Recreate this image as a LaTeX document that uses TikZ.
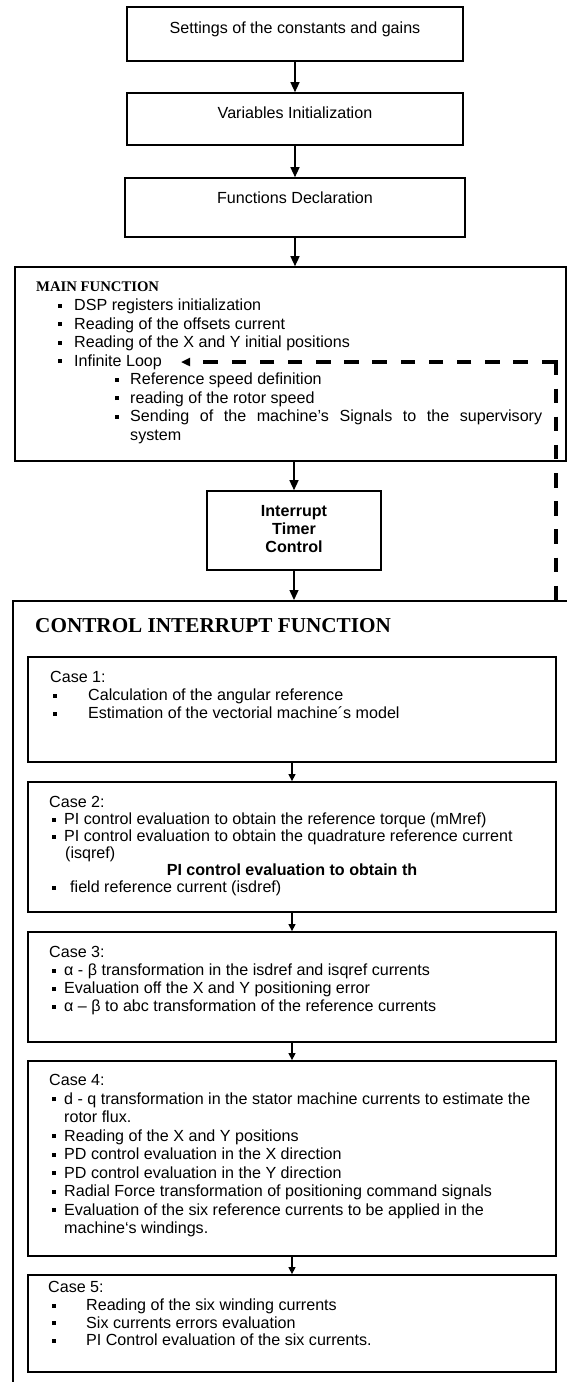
\documentclass[tikz,border=0pt]{standalone}
\usepackage{fontspec}
\setmainfont{Liberation Sans}
\newfontfamily\serifbf{Liberation Serif}
\usetikzlibrary{arrows.meta}
% small square bullet hanging left of the item text
\newcommand\bul[1]{\llap{\rule[3pt]{4pt}{4pt}\hspace{#1}}}
\newcommand\gravechar{\symbol{"60}}
\begin{document}
\begin{tikzpicture}[x=1pt,y=-1pt,
  frame/.style={draw, line width=1.6pt, inner sep=0pt},
  casebox/.style={draw, line width=1.8pt, inner sep=0pt, minimum width=528pt},
  txt/.style={inner sep=0pt, font=\fontsize{16.1}{18}\selectfont},
  ltxt/.style={txt, anchor=base west},
  ctxt/.style={txt, anchor=base},
  btxt/.style={inner sep=0pt, anchor=base, font=\fontsize{16.1}{18}\selectfont\bfseries},
  head/.style={inner sep=0pt, anchor=base west, font=\serifbf\bfseries\fontsize{14.7}{17}\selectfont},
  bighead/.style={inner sep=0pt, anchor=base west, font=\serifbf\bfseries\fontsize{21.2}{24}\selectfont},
  arr/.style={line width=1.3pt, -{Triangle[length=10pt,width=9pt]}},
  sarr/.style={line width=1.3pt, -{Triangle[length=7pt,width=7pt]}},
  dashline/.style={line width=3.2pt, dash pattern=on 14.5pt off 13.67pt},
  dashconn/.style={dashline, -{Triangle[length=9pt,width=8pt]}}
]
\useasboundingbox (0,0) rectangle (567,1382);
\fill[white] (0,0) rectangle (567,1382);

% ---------- initial blocks ----------
\node[frame, minimum width=336pt, minimum height=54pt] (set) at (295,34) {};
\node[ctxt] (setT) at (295,33.5) {Settings of the constants and gains};
\node[frame, minimum width=336pt, minimum height=52pt] (var) at (295,119) {};
\node[ctxt] (varT) at (295,118.5) {Variables Initialization};
\node[frame, minimum width=340pt, minimum height=59pt] (fun) at (295,207.5) {};
\node[ctxt] (funT) at (295,203.5) {Functions Declaration};

% ---------- main function ----------
\node[frame, minimum width=551pt, minimum height=194pt] (main) at (290.5,364) {};
\node[head] (mainT) at (36,291) {MAIN FUNCTION};
\node[ltxt] (m1) at (74,310.5) {\bul{12pt}DSP registers initialization};
\node[ltxt] (m2) at (74,329) {\bul{12pt}Reading of the offsets current};
\node[ltxt] (m3) at (74,347.5) {\bul{12pt}Reading of the X and Y initial positions};
\node[ltxt] (m4) at (74,366) {\bul{12pt}Infinite Loop};
\node[ltxt] (m5) at (130,384.5) {\bul{11pt}Reference speed definition};
\node[ltxt] (m6) at (130,403) {\bul{11pt}reading of the rotor speed};
\node[ltxt] (m7) at (130,421.5) {\bul{11pt}\hbox to 412pt{Sending\hfill of\hfill the\hfill machine’s\hfill Signals\hfill to\hfill the\hfill supervisory}};
\node[ltxt] (m8) at (130,440) {system};

% ---------- interrupt timer ----------
\node[frame, minimum width=174pt, minimum height=79pt] (tim) at (294,530.5) {};
\node[btxt] (tim1) at (294,516.5) {Interrupt};
\node[btxt] (tim2) at (294,534.5) {Timer};
\node[btxt] (tim3) at (294,552.5) {Control};

% ---------- control interrupt function ----------
\node[frame, anchor=north west, minimum width=600pt, minimum height=820pt] (ctrl) at (12,600) {};
\node[bighead] (ctrlT) at (35,632) {CONTROL INTERRUPT FUNCTION};

% Case 1
\node[casebox, minimum height=105pt] (c1) at (292,709.5) {};
\node[ltxt] (c1h) at (50,682.5) {Case 1:};
\node[ltxt] (c1a) at (88,700.5) {\bul{31pt}Calculation of the angular reference};
\node[ltxt] (c1b) at (88,718.5) {\bul{31pt}Estimation of the vectorial machine´s model};

% Case 2
\node[casebox, minimum height=130pt] (c2) at (292,847) {};
\node[ltxt] (c2h) at (49,807.5) {Case 2:};
\node[ltxt] (c2a) at (64,824.5) {\bul{8pt}PI control evaluation to obtain the reference torque (mMref)};
\node[ltxt] (c2b) at (64,841.5) {\bul{8pt}PI control evaluation to obtain the quadrature reference current};
\node[ltxt] (c2c) at (65,858.5) {(isqref)};
\node[btxt] (c2d) at (292,875.5) {PI control evaluation to obtain th};
\node[ltxt] (c2e) at (70,892.5) {\bul{14pt}field reference current (isdref)};

% Case 3
\node[casebox, minimum height=110pt] (c3) at (292,987) {};
\node[ltxt] (c3h) at (49,957.5) {Case 3:};
\node[ltxt] (c3a) at (64,975.5) {\bul{8pt}α - β transformation in the isdref and isqref currents};
\node[ltxt] (c3b) at (64,993.5) {\bul{8pt}Evaluation off the X and Y positioning error};
\node[ltxt] (c3c) at (64,1011.5) {\bul{8pt}α – β to abc transformation of the reference currents};

% Case 4
\node[casebox, minimum height=195pt] (c4) at (292,1158.5) {};
\node[ltxt] (c4h) at (49,1085.5) {Case 4:};
\node[ltxt] (c4a) at (64,1104) {\bul{8pt}d - q transformation in the stator machine currents to estimate the};
\node[ltxt] (c4b) at (64,1122.5) {rotor flux.};
\node[ltxt] (c4c) at (64,1141) {\bul{8pt}Reading of the X and Y positions};
\node[ltxt] (c4d) at (64,1159.5) {\bul{8pt}PD control evaluation in the X direction};
\node[ltxt] (c4e) at (64,1178) {\bul{8pt}PD control evaluation in the Y direction};
\node[ltxt] (c4f) at (64,1196.5) {\bul{8pt}Radial Force transformation of positioning command signals};
\node[ltxt] (c4g) at (64,1215) {\bul{8pt}Evaluation of the six reference currents to be applied in the};
\node[ltxt] (c4h2) at (64,1233.5) {machine\gravechar s windings.};

% Case 5
\node[casebox, minimum height=97pt] (c5) at (292,1323.5) {};
\node[ltxt] (c5h) at (48,1292.5) {Case 5:};
\node[ltxt] (c5a) at (86,1310.5) {\bul{30pt}Reading of the six winding currents};
\node[ltxt] (c5b) at (86,1328) {\bul{30pt}Six currents errors evaluation};
\node[ltxt] (c5c) at (86,1345.5) {\bul{30pt}PI Control evaluation of the six currents.};

% ---------- connectors ----------
\draw[arr] (set.south) -- (var.north);
\draw[arr] (var.south) -- (fun.north);
\draw[arr] (fun.south) -- (fun.south |- main.north);
\draw[arr] (tim.north |- main.south) -- (tim.north);
\draw[arr] (tim.south) -- (tim.south |- ctrl.north);
\draw[sarr] (c1.south) -- (c2.north);
\draw[sarr] (c2.south) -- (c3.north);
\draw[sarr] (c3.south) -- (c4.north);
\draw[sarr] (c4.south) -- (c5.north);

% loop-back from the interrupt block to the infinite loop
\coordinate (dtop) at (556,600);
\coordinate (dcorner) at (556,362);
\coordinate (dend) at (181,362);
\draw[dashline] ([yshift=1.6pt]dcorner) -- (dtop);
\draw[dashconn] (dcorner) -- (dend);
\end{tikzpicture}
\end{document}
